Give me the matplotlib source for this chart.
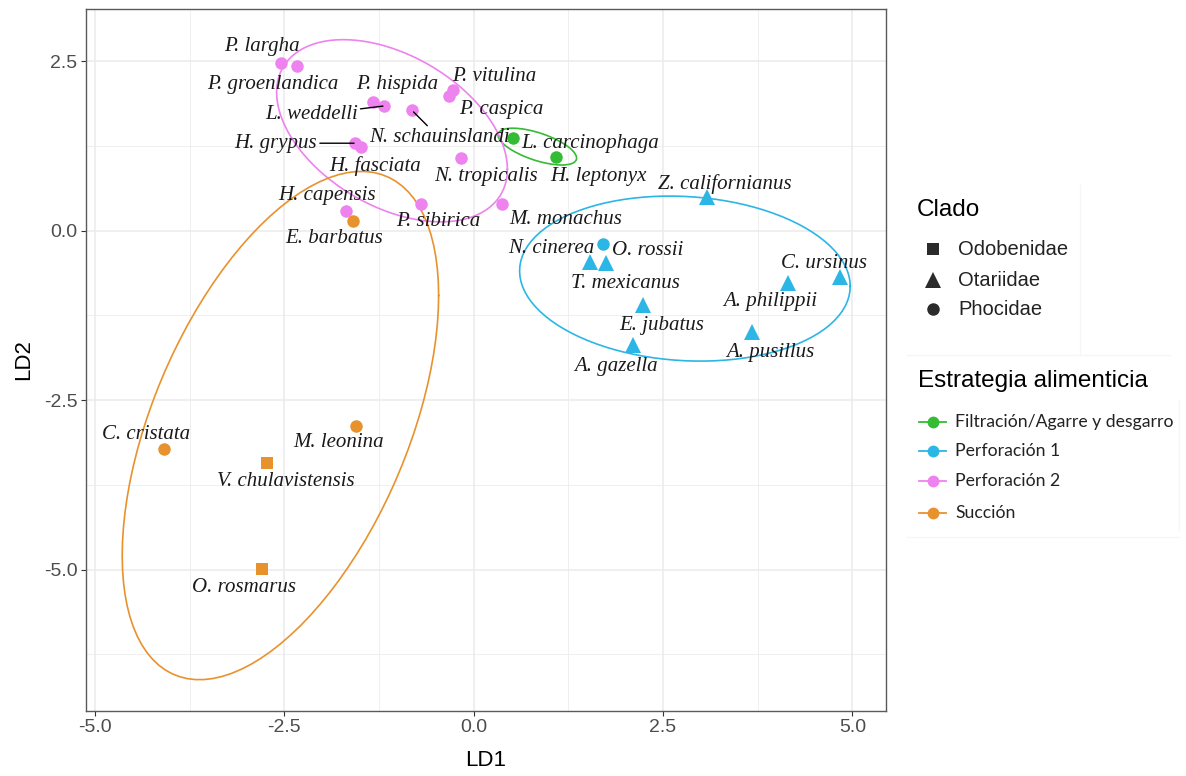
"""LDA biplot of pinniped feeding strategies (LD1 vs LD2)."""

import numpy as np
import matplotlib

matplotlib.use("Agg")
import matplotlib.pyplot as plt
from matplotlib.lines import Line2D
from matplotlib.patches import Ellipse

plt.rcParams["axes.unicode_minus"] = False

# ---------------------------------------------------------------- data
SPECIES = [
    "P. largha", "P. groenlandica", "P. hispida", "L. weddelli",
    "N. schauinslandi", "P. vitulina", "P. caspica", "H. grypus",
    "H. fasciata", "N. tropicalis", "H. capensis", "P. sibirica",
    "M. monachus", "E. barbatus", "L. carcinophaga", "H. leptonyx",
    "Z. californianus", "O. rossii", "N. cinerea", "T. mexicanus",
    "C. ursinus", "A. philippii", "E. jubatus", "A. pusillus",
    "A. gazella", "C. cristata", "M. leonina", "V. chulavistensis",
    "O. rosmarus",
]
LD1 = [
    -2.54, -2.33, -1.33, -1.18, -0.82, -0.27, -0.33, -1.57, -1.49, -0.17,
    -1.68, -0.69, 0.38, -1.60, 0.52, 1.09, 3.08, 1.71, 1.54, 1.75,
    4.84, 4.15, 2.24, 3.68, 2.11, -4.09, -1.55, -2.73, -2.79,
]
LD2 = [
    2.48, 2.43, 1.90, 1.84, 1.78, 2.08, 1.98, 1.29, 1.23, 1.07,
    0.29, 0.40, 0.39, 0.15, 1.36, 1.08, 0.50, -0.19, -0.46, -0.48,
    -0.68, -0.77, -1.10, -1.49, -1.69, -3.22, -2.88, -3.43, -4.99,
]
CLADO = (
    ["Phocidae"] * 16 + ["Otariidae", "Phocidae"] + ["Otariidae"] * 7
    + ["Phocidae", "Phocidae", "Odobenidae", "Odobenidae"]
)
ESTRATEGIA = (
    ["Perforación 2"] * 13 + ["Succión"]
    + ["Filtración/Agarre y desgarro"] * 2 + ["Perforación 1"] * 9
    + ["Succión"] * 4
)

CLADOS = ["Odobenidae", "Otariidae", "Phocidae"]
ESTRATEGIAS = ["Filtración/Agarre y desgarro", "Perforación 1",
               "Perforación 2", "Succión"]

# two-species group: ellipse (center, axes, angle)
FILT_CENTER = (0.84, 1.24)
FILT_AXES = (1.10, 0.40)
FILT_ANGLE = -21

# ---------------------------------------------------------------- style
COLORS = {
    "Filtración/Agarre y desgarro": "#34BC34",
    "Perforación 1": "#2BB6E6",
    "Perforación 2": "#EE82EE",
    "Succión": "#E8922E",
}
MARKERS = {"Odobenidae": ("s", 9), "Otariidae": ("^", 11), "Phocidae": ("o", 9)}

# label offsets in pixels from the point (dx, dy downward)
LABEL_OFFSETS = {
    "P. largha": (-19, -16), "P. groenlandica": (-24, 19),
    "P. hispida": (24, -17), "L. weddelli": (-73, 9),
    "N. schauinslandi": (28, 28), "P. vitulina": (41, -13),
    "P. caspica": (53, 13), "H. grypus": (-79, 0),
    "H. fasciata": (14, 19), "N. tropicalis": (25, 18),
    "H. capensis": (-19, -16), "P. sibirica": (17, 18),
    "M. monachus": (63, 15), "E. barbatus": (-18, 18),
    "L. carcinophaga": (77, 5), "H. leptonyx": (42, 19),
    "Z. californianus": (18, -13), "O. rossii": (44, 7),
    "N. cinerea": (-39, -13), "T. mexicanus": (19, 20),
    "C. ursinus": (-16, -13), "A. philippii": (-18, 19),
    "E. jubatus": (18, 20), "A. pusillus": (18, 21),
    "A. gazella": (-18, 21), "C. cristata": (-18, -15),
    "M. leonina": (-18, 17), "V. chulavistensis": (19, 18),
    "O. rosmarus": (-18, 18),
}
LEADERS = {"L. weddelli": 1.0, "H. grypus": 0.5, "N. schauinslandi": 2.0}

W, H = 1186, 776


def fx(px):
    return px / W


def fy(py):
    return 1 - py / H


def ellipse_points(x, y, level=0.75, segments=101):
    """Normal-theory data ellipse, like ggplot2's stat_ellipse(type='norm')."""
    x = np.asarray(x)
    y = np.asarray(y)
    d = len(x) - 1
    fq = d / 2 * ((1 - level) ** (-2 / d) - 1)
    radius = np.sqrt(2 * fq)
    center = np.array([x.mean(), y.mean()])
    chol = np.linalg.cholesky(np.cov(x, y))
    t = np.linspace(0, 2 * np.pi, segments)
    circle = np.column_stack([np.cos(t), np.sin(t)])
    return center + radius * circle @ chol.T


fig = plt.figure(figsize=(W / 100, H / 100), dpi=100)
ax = fig.add_axes([fx(85.7), fy(711), (886 - 85.7) / W, (711 - 9.3) / H])

ld1 = np.array(LD1)
ld2 = np.array(LD2)
estr = np.array(ESTRATEGIA)
clado = np.array(CLADO)

# Ellipses
for grp in ESTRATEGIAS:
    m = estr == grp
    if m.sum() >= 3:
        pts = ellipse_points(ld1[m], ld2[m])
        ax.plot(pts[:, 0], pts[:, 1], color=COLORS[grp], lw=1.2, zorder=2)
    else:
        ax.add_patch(Ellipse(FILT_CENTER, FILT_AXES[0], FILT_AXES[1],
                             angle=FILT_ANGLE, fill=False,
                             edgecolor=COLORS[grp], lw=1.2, zorder=2))

# Points
for grp in ESTRATEGIAS:
    for cl in CLADOS:
        m = (estr == grp) & (clado == cl)
        if not m.any():
            continue
        mk, ms = MARKERS[cl]
        ax.plot(ld1[m], ld2[m], linestyle="none", marker=mk, markersize=ms,
                color=COLORS[grp], markeredgewidth=0, zorder=3)

# Labels
for name, x, y in zip(SPECIES, LD1, LD2):
    dx, dy = LABEL_OFFSETS[name]
    kw = {}
    if name in LEADERS:
        kw["arrowprops"] = dict(arrowstyle="-", color="black", lw=1.0,
                                shrinkA=0, shrinkB=LEADERS[name])
    ax.annotate(name, (x, y), xytext=(dx, -dy), textcoords="offset pixels",
                ha="center", va="center", fontsize=15, style="italic",
                family="Liberation Serif", color="#1A1A1A", zorder=4, **kw)

# Axes cosmetics
ax.set_xlim(-5.123, 5.444)
ax.set_ylim(-7.084, 3.265)
ax.set_xticks([-5, -2.5, 0, 2.5, 5])
ax.set_xticklabels(["-5.0", "-2.5", "0.0", "2.5", "5.0"])
ax.set_yticks([-5, -2.5, 0, 2.5])
ax.set_yticklabels(["-5.0", "-2.5", "0.0", "2.5"])
ax.set_xticks([-3.75, -1.25, 1.25, 3.75], minor=True)
ax.set_yticks([-6.25, -3.75, -1.25, 1.25], minor=True)
ax.grid(which="major", color="#EBEBEB", lw=1.1)
ax.grid(which="minor", color="#EBEBEB", lw=0.55)
ax.set_axisbelow(True)
for sp in ax.spines.values():
    sp.set_color("#5A5A5A")
    sp.set_linewidth(1.0)
ax.tick_params(which="major", length=3.5, width=0.8, color="#333333",
               labelcolor="#4D4D4D", labelsize=14, pad=2.5)
ax.tick_params(which="minor", length=0)
for lab in ax.get_xticklabels() + ax.get_yticklabels():
    lab.set_family("Liberation Sans")

fig.text(fx(486), fy(761), "LD1", ha="center", va="center",
         fontsize=16, family="Liberation Sans")
fig.text(fx(24), fy(360), "LD2", ha="center", va="center", rotation=90,
         fontsize=16, family="Liberation Sans")

# Legend: Clado
fig.text(fx(917), fy(210), "Clado", ha="left", va="center",
         fontsize=17.5, family="Liberation Sans")
for cl, yy in zip(CLADOS, [249.3, 280, 309.3]):
    mk, ms = MARKERS[cl]
    fig.add_artist(Line2D([fx(933)], [fy(yy)], transform=fig.transFigure,
                          marker=mk, markersize=ms, color="#2B2B2B",
                          markeredgewidth=0, linestyle="none"))
    fig.text(fx(958), fy(yy), cl, ha="left", va="center",
             fontsize=14.5, family="Liberation Sans", color="#222222")

# Legend: Estrategia alimenticia
fig.text(fx(918), fy(381), "Estrategia alimenticia", ha="left", va="center",
         fontsize=17.5, family="Liberation Sans")
for grp, yy in zip(ESTRATEGIAS, [421.7, 450.7, 480.7, 512.7]):
    fig.add_artist(Line2D([fx(919), fx(946)], [fy(yy), fy(yy)],
                          transform=fig.transFigure, color=COLORS[grp], lw=1.3))
    fig.add_artist(Line2D([fx(932.5)], [fy(yy)], transform=fig.transFigure,
                          marker="o", markersize=8.5, color=COLORS[grp],
                          markeredgewidth=0, linestyle="none"))
    fig.text(fx(955), fy(yy), grp, ha="left", va="center",
             fontsize=12.7, family="Lato", color="#222222")

# faint legend box edges
for xs, ys in [((1080, 1080), (185, 355)), ((907, 1170), (355, 355)),
               ((1179, 1179), (400, 530)), ((907, 1179), (537, 537))]:
    fig.add_artist(Line2D([fx(v) for v in xs], [fy(v) for v in ys],
                          transform=fig.transFigure, color="#F6F6F6", lw=1))

fig.savefig("out.png", dpi=100)
